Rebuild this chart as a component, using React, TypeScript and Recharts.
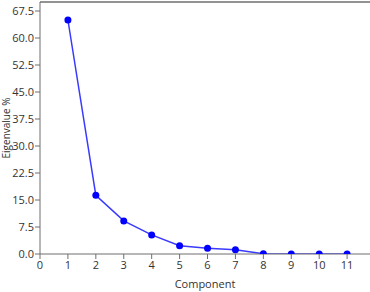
import React from 'react';
import { LineChart, Line, XAxis, YAxis, ReferenceLine, Label } from 'recharts';

const components = [1, 2, 3, 4, 5, 6, 7, 8, 9, 10, 11];
const eigenvalues = [65.0, 16.3, 9.2, 5.3, 2.3, 1.6, 1.2, 0.05, 0.02, 0.01, 0.0];
const xTicks = [0, 1, 2, 3, 4, 5, 6, 7, 8, 9, 10, 11];
const yTicks = [0, 7.5, 15, 22.5, 30, 37.5, 45, 52.5, 60, 67.5];

const chartData = components.map((c, i) => ({ component: c, value: eigenvalues[i] }));

const font = '"Open Sans", "Noto Sans", sans-serif';
const axisColor = '#6e6e6e';

const App: React.FC = () => {
    return (
        <div style={{ position: 'absolute', left: 0, top: 0, width: 370, height: 292, background: '#fff' }}>
            <LineChart
                width={370}
                height={292}
                data={chartData}
                margin={{ top: 2, right: 0, left: 0, bottom: 8 }}
                style={{ fontFamily: font }}
            >
                <XAxis
                    dataKey="component"
                    type="number"
                    domain={[0, 11.82]}
                    ticks={xTicks}
                    allowDataOverflow
                    height={30}
                    stroke={axisColor}
                    tickLine={{ stroke: axisColor }}
                    tickSize={5}
                    tick={{ fontSize: 11, fill: '#333' }}
                >
                    <Label value="Component" position="insideBottom" offset={-4} style={{ fontSize: 11, fill: '#333', fontFamily: font }} />
                </XAxis>
                <YAxis
                    type="number"
                    domain={[0, 70]}
                    ticks={yTicks}
                    allowDataOverflow
                    width={40}
                    stroke={axisColor}
                    tickSize={5}
                    tickMargin={1}
                    tickLine={{ stroke: axisColor }}
                    tick={{ fontSize: 11, fill: '#333' }}
                    tickFormatter={(v: number) => v.toFixed(1)}
                >
                    <Label
                        content={(props: any) => {
                            const vb = props.viewBox || {};
                            const cy = vb.y + vb.height / 2;
                            return (
                                <text
                                    x={5.5}
                                    y={cy}
                                    transform={`rotate(-90 5.5 ${cy})`}
                                    textAnchor="middle"
                                    dominantBaseline="central"
                                    style={{ fontSize: 10, fill: '#333', fontFamily: font }}
                                >
                                    Eigenvalue %
                                </text>
                            );
                        }}
                    />
                </YAxis>
                <ReferenceLine y={70} stroke={axisColor} strokeWidth={1.5} ifOverflow="visible" />
                <Line
                    type="linear"
                    dataKey="value"
                    stroke="#3a3aff"
                    strokeWidth={1.5}
                    dot={{ r: 3.5, fill: '#0000ff', stroke: '#0000ff', strokeWidth: 0 }}
                    activeDot={false}
                    isAnimationActive={false}
                />
            </LineChart>
        </div>
    );
};

export default App;
